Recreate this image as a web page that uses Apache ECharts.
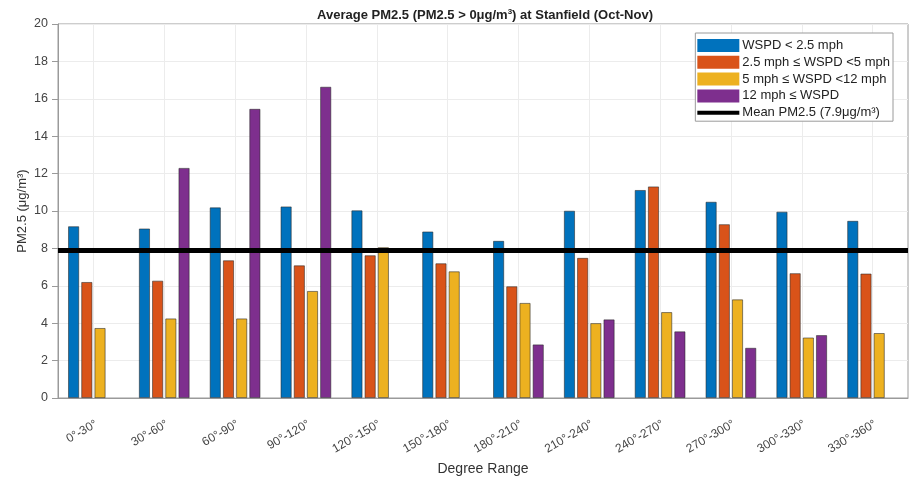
<!DOCTYPE html>
<html>
<head>
<meta charset="utf-8">
<script src="https://cdn.jsdelivr.net/npm/echarts@6/dist/echarts.min.js"></script>
<style>
  html, body { margin: 0; padding: 0; background: #fff; }
  #chart { width: 909px; height: 483px; }
</style>
</head>
<body>
<div id="chart"></div>
<script>
// Wind-direction sectors
const categories = ['0°-30°', '30°-60°', '60°-90°', '90°-120°', '120°-150°', '150°-180°',
  '180°-210°', '210°-240°', '240°-270°', '270°-300°', '300°-330°', '330°-360°'];

// Average PM2.5 (µg/m³) per wind-speed class
const wspdLow = [9.18, 9.06, 10.19, 10.24, 10.03, 8.9, 8.4, 10.01, 11.12, 10.49, 9.96, 9.47];
const wspdMid = [6.2, 6.27, 7.36, 7.09, 7.63, 7.2, 5.97, 7.49, 11.31, 9.29, 6.67, 6.65];
const wspdHigh = [3.74, 4.25, 4.25, 5.72, 8.06, 6.77, 5.08, 4.0, 4.59, 5.27, 3.23, 3.47];
const wspdStrong = [null, 12.3, 15.46, 16.64, null, null, 2.86, 4.2, 3.56, 2.68, 3.36, null];

const meanPM = 7.9;

const seriesNames = [
  'WSPD < 2.5 mph',
  '2.5 mph ≤ WSPD <5 mph',
  '5 mph ≤ WSPD <12 mph',
  '12 mph ≤ WSPD',
  'Mean PM2.5 (7.9μg/m³)'
];
const colors = ['#0072BD', '#D95319', '#EDB120', '#7E2F8E'];

const chart = echarts.init(document.getElementById('chart'), null, { renderer: 'canvas' });

function barSeries(name, data, color) {
  return {
    name: name,
    type: 'bar',
    xAxisIndex: 0,
    data: data,
    barWidth: 11,
    barGap: '20%',
    itemStyle: { color: color, borderColor: 'rgba(40,40,40,0.7)', borderWidth: 0.8 },
    emphasis: { disabled: true }
  };
}

const option = {
  animation: false,
  backgroundColor: '#fff',
  textStyle: { fontFamily: 'Liberation Sans, Arial, sans-serif' },
  title: {
    text: 'Average PM2.5 (PM2.5 > 0μg/m{sup|3}) at Stanfield (Oct-Nov)',
    left: 480,
    textAlign: 'center',
    top: 3,
    textStyle: {
      fontSize: 13,
      fontWeight: 'bold',
      color: '#222',
      rich: { sup: { fontSize: 8, fontWeight: 'bold', color: '#222', verticalAlign: 'top', padding: [0, 0, 6, 0] } }
    }
  },
  grid: {
    left: 58, right: 1, top: 24, bottom: 85,
    show: true, borderColor: '#9a9a9a', borderWidth: 1, backgroundColor: '#fff'
  },
  legend: {
    orient: 'vertical',
    right: 16,
    top: 33,
    padding: [6, 3, 2, 2],
    backgroundColor: '#fff',
    borderColor: '#9a9a9a',
    borderWidth: 1,
    itemWidth: 42,
    itemHeight: 13,
    itemGap: 3.8,
    symbolKeepAspect: true,
    itemStyle: { borderWidth: 0 },
    data: [
      { name: seriesNames[0], icon: 'rect' },
      { name: seriesNames[1], icon: 'rect' },
      { name: seriesNames[2], icon: 'rect' },
      { name: seriesNames[3], icon: 'rect' },
      { name: seriesNames[4], icon: 'path://M0,0H42V4H0Z', itemStyle: { color: '#000' } }
    ],
    textStyle: { fontSize: 13, color: '#222', lineHeight: 13, padding: [0, 0, 0, -2] }
  },
  xAxis: [
    {
      type: 'category',
      data: categories,
      name: 'Degree Range',
      nameLocation: 'middle',
      nameGap: 64,
      nameTextStyle: { fontSize: 14, color: '#333' },
      axisLine: { lineStyle: { color: '#9a9a9a' } },
      axisTick: { alignWithLabel: true, length: 5, lineStyle: { color: '#9a9a9a' } },
      axisLabel: { rotate: 30, fontSize: 12, color: '#444', margin: 20, verticalAlign: 'top' },
      splitLine: { show: true, alignWithLabel: true, lineStyle: { color: '#ececec' } }
    },
    {
      type: 'category',
      data: categories,
      position: 'top',
      axisLine: { show: false },
      axisTick: { alignWithLabel: true, length: 5, lineStyle: { color: '#9a9a9a' } },
      axisLabel: { show: false },
      splitLine: { show: false }
    }
  ],
  yAxis: {
    type: 'value',
    min: 0,
    max: 20,
    interval: 2,
    name: 'PM2.5 (μg/m³)',
    nameLocation: 'middle',
    nameGap: 29,
    nameMoveOverlap: false,
    nameTextStyle: { fontSize: 13, color: '#333' },
    axisLine: { show: true, lineStyle: { color: '#9a9a9a' } },
    axisTick: { show: true, length: 6, lineStyle: { color: '#9a9a9a' } },
    axisLabel: { fontSize: 12.5, color: '#444', margin: 10 },
    splitLine: { show: true, lineStyle: { color: '#ececec' } }
  },
  series: [
    barSeries(seriesNames[0], wspdLow, colors[0]),
    barSeries(seriesNames[1], wspdMid, colors[1]),
    barSeries(seriesNames[2], wspdHigh, colors[2]),
    barSeries(seriesNames[3], wspdStrong, colors[3]),
    {
      name: seriesNames[4],
      type: 'line',
      xAxisIndex: 0,
      data: categories.map(() => null),
      symbol: 'none',
      lineStyle: { color: '#000', width: 4 },
      itemStyle: { color: '#000' },
      z: 5,
      markLine: {
        silent: true,
        symbol: 'none',
        label: { show: false },
        lineStyle: { color: '#000', width: 5, type: 'solid' },
        data: [{ yAxis: meanPM }]
      }
    }
  ]
};

chart.setOption(option);
</script>
</body>
</html>
